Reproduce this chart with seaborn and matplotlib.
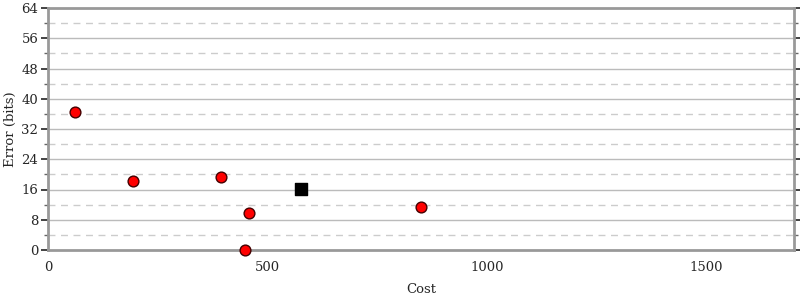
import matplotlib
matplotlib.use("Agg")
import matplotlib.pyplot as plt
import seaborn as sns
import pandas as pd
from matplotlib.ticker import MultipleLocator

sns.set_style("white")
plt.rcParams['font.family'] = ['DejaVu Serif']

cost_red = [61, 193, 394, 457, 448, 849]
error_red = [36.5, 18.2, 19.3, 9.8, 0.0, 11.4]
cost_black = [576]
error_black = [16.1]

df_red = pd.DataFrame({"Cost": cost_red, "Error": error_red})
df_black = pd.DataFrame({"Cost": cost_black, "Error": error_black})

fig = plt.figure(figsize=(8, 3), dpi=100)
ax = fig.add_axes([48/800, 50/300, 746/800, 242/300])

ax.yaxis.set_major_locator(MultipleLocator(8))
ax.yaxis.set_minor_locator(MultipleLocator(4))
ax.xaxis.set_major_locator(MultipleLocator(500))
ax.xaxis.set_minor_locator(MultipleLocator(100))
ax.grid(False)
for v in range(8, 64, 8):
    ax.axhline(v, color="#bbbbbb", lw=1, zorder=0)
for v in range(4, 64, 8):
    ax.axhline(v, color="#cccccc", lw=1, ls=(0, (5, 4)), zorder=0)

sns.scatterplot(data=df_red, x="Cost", y="Error", ax=ax, color="#ff0000",
                edgecolor="#440000", linewidth=1, s=60, marker="o", zorder=3, clip_on=False)
sns.scatterplot(data=df_black, x="Cost", y="Error", ax=ax, color="black",
                edgecolor="black", linewidth=1, s=80, marker="s", zorder=3, clip_on=False)

ax.set_xlim(0, 1700)
ax.set_ylim(0, 64)
ax.set_xlabel("Cost", fontsize=9.5)
ax.set_ylabel("Error (bits)", fontsize=9.5)
ax.xaxis.set_label_coords(0.5, (250 - 283) / 242)
ax.yaxis.set_label_coords((17 - 48) / 746, 0.5)

for side in ["left", "bottom", "top", "right"]:
    ax.spines[side].set_color("#999999")
    ax.spines[side].set_linewidth(2)
    ax.spines[side].set_visible(True)

ax.tick_params(axis="y", which="major", direction="out", length=5, width=1.2, color="#222222",
               labelsize=9.5, right=True, left=True, pad=2)
ax.tick_params(axis="y", which="minor", direction="out", length=3, width=1, color="#666666",
               right=True, left=True)
ax.tick_params(axis="x", which="major", direction="inout", length=8, width=1.2, color="#444444",
               labelsize=9.5, pad=4)
ax.tick_params(axis="x", which="minor", direction="inout", length=4, width=1, color="#888888")
ax.tick_params(axis="y", which="both", labelright=False)

fig.savefig("out.png", dpi=100)
